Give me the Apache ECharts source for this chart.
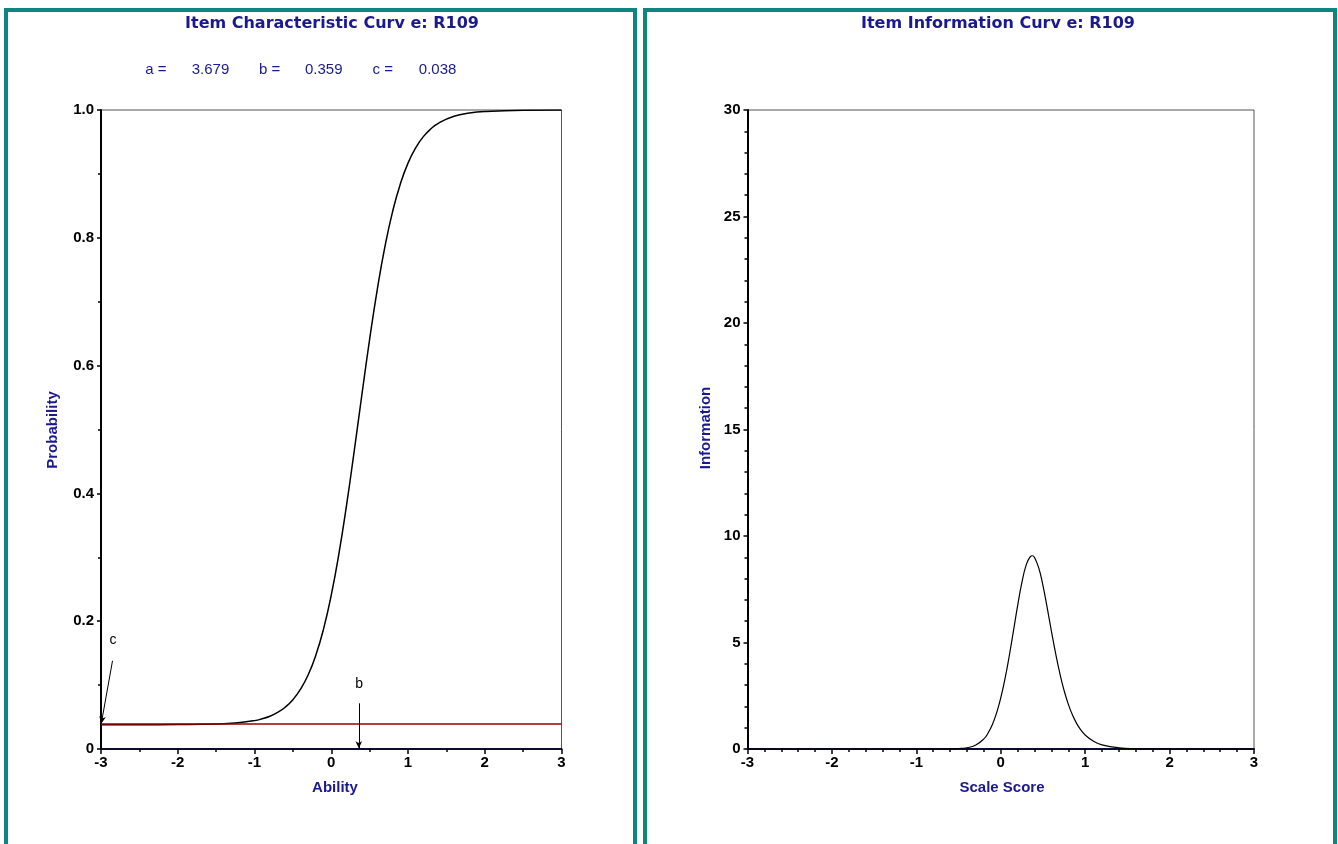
<!DOCTYPE html>
<html>
<head>
<meta charset="utf-8">
<title>Item Characteristic and Information Curves: R109</title>
<script src="https://cdn.jsdelivr.net/npm/echarts@6/dist/echarts.min.js"></script>
<style>
  html, body { margin: 0; padding: 0; background: #ffffff; }
  #chart { width: 1338px; height: 844px; }
</style>
</head>
<body>
<div id="chart"></div>
<script>
// Item parameters for R109 (3PL model)
const itemId = 'R109';
const paramNames = ['a', 'b', 'c'];
const paramValues = [3.679, 0.359, 0.038];

// Item characteristic curve: ability vs probability of a correct response
const abilityPoints = [-3, -2.5, -2, -1.5, -1.25, -1, -0.9, -0.8, -0.7, -0.6, -0.5, -0.4, -0.3, -0.2, -0.1,
  0, 0.1, 0.2, 0.3, 0.4, 0.5, 0.6, 0.7, 0.8, 0.9, 1.0, 1.1, 1.2, 1.3, 1.4, 1.6, 1.8, 2.0, 2.5, 3.0];
const probabilityValues = [0.0380, 0.0380, 0.0382, 0.0390, 0.0406, 0.0444, 0.0473, 0.0513, 0.0572, 0.0654, 0.0771, 0.0936, 0.1162, 0.1471, 0.1880,
  0.2407, 0.3057, 0.3822, 0.4670, 0.5552, 0.6410, 0.7193, 0.7865, 0.8414, 0.8843, 0.9169, 0.9408, 0.9583, 0.9707, 0.9796, 0.9901, 0.9952, 0.9977, 0.9996, 0.9999];

// Item information curve: scale score vs information
const scorePoints = [-3, -2, -1, -0.8, -0.6, -0.5, -0.4, -0.3, -0.2, -0.15, -0.1, -0.05, 0, 0.05, 0.1, 0.15, 0.2, 0.25, 0.3, 0.35, 0.375,
  0.4, 0.45, 0.5, 0.55, 0.6, 0.65, 0.7, 0.75, 0.8, 0.85, 0.9, 0.95, 1.0, 1.1, 1.2, 1.4, 1.6, 1.8, 2.0, 2.5, 3.0];
const informationValues = [0, 0, 0.0000, 0.0005, 0.0057, 0.0188, 0.0597, 0.1767, 0.4768, 0.750, 1.143, 1.684, 2.398, 3.293, 4.354, 5.530, 6.727, 7.808, 8.620, 9.037, 9.072,
  8.990, 8.502, 7.671, 6.637, 5.539, 4.488, 3.549, 2.753, 2.105, 1.591, 1.193, 0.889, 0.658, 0.359, 0.193, 0.056, 0.016, 0.005, 0.001, 0, 0];

// Tick labels
const thetaTickLabels = ['-3', '-2', '-1', '0', '1', '2', '3'];
const probabilityTickLabels = ['0', '0.2', '0.4', '0.6', '0.8', '1.0'];
const informationTickLabels = ['0', '5', '10', '15', '20', '25', '30'];

const aParam = paramValues[0], bParam = paramValues[1], cParam = paramValues[2];

const NAVY = '#1a1a8e';
const TEAL = '#0e8680';
const TICK_FONT = '"Liberation Sans", Arial, sans-serif';

function zip(xs, ys) { return xs.map((x, i) => [x, ys[i]]); }

function xAxisFor(gridIndex, minorSplit) {
  return {
    type: 'value', gridIndex: gridIndex, min: -3, max: 3, interval: 1,
    axisLine: { show: true, onZero: false, lineStyle: { color: '#0c0c30', width: 2 } },
    axisTick: { show: true, length: 5, lineStyle: { color: '#000', width: 1.5 } },
    minorTick: { show: true, splitNumber: minorSplit, length: 3, lineStyle: { color: '#000', width: 1.5 } },
    splitLine: { show: false },
    axisLabel: {
      show: true, margin: 6, color: '#000', fontSize: 15, fontWeight: 'bold', fontFamily: TICK_FONT,
      showMinLabel: true, showMaxLabel: true,
      formatter: v => thetaTickLabels[Math.round(v + 3)]
    }
  };
}

function yAxisFor(gridIndex, max, interval, minorSplit, labels) {
  return {
    type: 'value', gridIndex: gridIndex, min: 0, max: max, interval: interval,
    axisLine: { show: true, onZero: false, lineStyle: { color: '#000', width: 2 } },
    axisTick: { show: true, length: 4, lineStyle: { color: '#000', width: 1.5 } },
    minorTick: { show: true, splitNumber: minorSplit, length: 3, lineStyle: { color: '#000', width: 1.5 } },
    splitLine: { show: false },
    axisLabel: {
      show: true, margin: 7, color: '#000', fontSize: 15, fontWeight: 'bold', fontFamily: TICK_FONT,
      showMinLabel: true, showMaxLabel: true,
      formatter: v => labels[Math.round(v / interval)]
    }
  };
}

const chart = echarts.init(document.getElementById('chart'), null, { renderer: 'canvas' });

// Header texts for the parameter line
const paramX = [[145.3, 191.7], [259, 305], [372.6, 418.8]];
const paramGraphics = [];
paramNames.forEach((n, i) => {
  paramGraphics.push({
    type: 'text', x: paramX[i][0], y: 70,
    style: { text: n + ' =', font: '15px "Liberation Sans", Arial, sans-serif', fill: NAVY, align: 'left', verticalAlign: 'middle' }
  });
  paramGraphics.push({
    type: 'text', x: paramX[i][1], y: 70,
    style: { text: paramValues[i].toFixed(3), font: '15px "Liberation Sans", Arial, sans-serif', fill: NAVY, align: 'left', verticalAlign: 'middle' }
  });
});

const titleFont = 'bold 16px "DejaVu Sans", sans-serif';
const axisNameFont = 'bold 15px "Liberation Sans", Arial, sans-serif';

const option = {
  animation: false,
  backgroundColor: '#ffffff',
  grid: [
    { left: 101, right: 776.5, top: 110, bottom: 95, show: true, borderColor: '#555', borderWidth: 1, backgroundColor: 'transparent' },
    { left: 747.5, right: 84, top: 110, bottom: 95, show: true, borderColor: '#555', borderWidth: 1, backgroundColor: 'transparent' }
  ],
  xAxis: [xAxisFor(0, 2), xAxisFor(1, 5)],
  yAxis: [
    yAxisFor(0, 1, 0.2, 2, probabilityTickLabels),
    yAxisFor(1, 30, 5, 5, informationTickLabels)
  ],
  series: [
    {
      // guessing parameter baseline
      name: 'c', type: 'line', xAxisIndex: 0, yAxisIndex: 0, data: [], z: 2,
      markLine: {
        silent: true, animation: false, symbol: ['none', 'none'],
        label: { show: false },
        lineStyle: { color: '#990000', width: 1.5, type: 'solid' },
        data: [{ yAxis: cParam }]
      }
    },
    {
      // arrows pointing at c and b
      name: 'annotations', type: 'line', xAxisIndex: 0, yAxisIndex: 0, data: [], z: 4,
      markLine: {
        silent: true, animation: false, symbol: ['none', 'arrow'], symbolSize: [5, 7],
        label: { show: false },
        lineStyle: { color: '#000', width: 1, type: 'solid' },
        data: [
          [{ coord: [-2.85, 0.138] }, { coord: [-2.996, cParam + 0.002] }],
          [{ coord: [bParam, 0.0715] }, { coord: [bParam, 0.001] }]
        ]
      },
      markPoint: {
        silent: true, animation: false, symbol: 'circle', symbolSize: 1,
        itemStyle: { color: 'rgba(0,0,0,0)' },
        label: { show: true, position: 'inside', color: '#000', fontSize: 14, fontFamily: TICK_FONT, formatter: p => p.name },
        data: [
          { name: 'c', coord: [-2.845, 0.171] },
          { name: 'b', coord: [bParam + 0.005, 0.102] }
        ]
      }
    },
    {
      name: 'Item Characteristic Curve', type: 'line', xAxisIndex: 0, yAxisIndex: 0, z: 3,
      data: zip(abilityPoints, probabilityValues),
      smooth: 0.5, showSymbol: false, symbol: 'none',
      lineStyle: { color: '#000', width: 1.5 }
    },
    {
      name: 'Item Information Curve', type: 'line', xAxisIndex: 1, yAxisIndex: 1, z: 3,
      data: zip(scorePoints, informationValues),
      smooth: 0.5, showSymbol: false, symbol: 'none',
      lineStyle: { color: '#000', width: 1.2 }
    }
  ],
  graphic: [
    // panel frames
    { type: 'rect', shape: { x: 6, y: 10, width: 629, height: 900 }, style: { fill: 'none', stroke: TEAL, lineWidth: 4 }, z: 10 },
    { type: 'rect', shape: { x: 645, y: 10, width: 690, height: 900 }, style: { fill: 'none', stroke: TEAL, lineWidth: 4 }, z: 10 },
    // titles
    { type: 'text', x: 332, y: 24, style: { text: 'Item Characteristic Curv e: ' + itemId, font: titleFont, fill: NAVY, align: 'center', verticalAlign: 'middle' } },
    { type: 'text', x: 998, y: 24, style: { text: 'Item Information Curv e: ' + itemId, font: titleFont, fill: NAVY, align: 'center', verticalAlign: 'middle' } },
    // axis names
    { type: 'text', x: 335, y: 788, style: { text: 'Ability', font: axisNameFont, fill: NAVY, align: 'center', verticalAlign: 'middle' } },
    { type: 'text', x: 1002, y: 788, style: { text: 'Scale Score', font: axisNameFont, fill: NAVY, align: 'center', verticalAlign: 'middle' } },
    { type: 'text', x: 53, y: 430, rotation: Math.PI / 2, style: { text: 'Probability', font: axisNameFont, fill: NAVY, align: 'center', verticalAlign: 'middle' } },
    { type: 'text', x: 706, y: 428, rotation: Math.PI / 2, style: { text: 'Information', font: axisNameFont, fill: NAVY, align: 'center', verticalAlign: 'middle' } }
  ].concat(paramGraphics)
};

chart.setOption(option);
</script>
</body>
</html>
